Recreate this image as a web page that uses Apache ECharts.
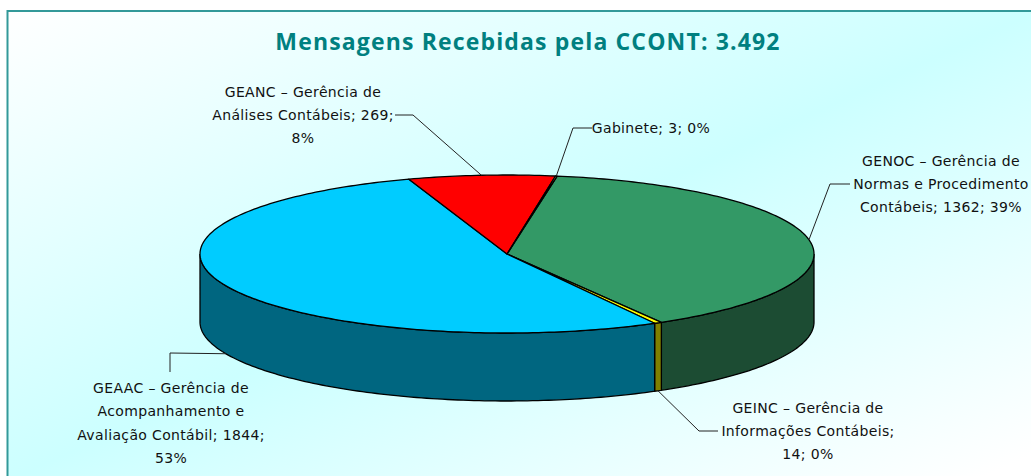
<!DOCTYPE html>
<html><head><meta charset="utf-8">
<style>html,body{margin:0;padding:0;background:#fff}#main{width:1031px;height:476px}
#main text{letter-spacing:0.35px}
#main text[style*="Open Sans"]{letter-spacing:1.15px}</style>
<script src="https://cdn.jsdelivr.net/npm/echarts@6/dist/echarts.min.js"></script>
</head><body><div id="main"></div>
<script>
const titleText = 'Mensagens Recebidas pela CCONT: 3.492';
const categories = ['GENOC', 'GEINC', 'GEAAC', 'GEANC', 'Gabinete'];
const values = [1362, 14, 1844, 269, 3];
const labelTexts = [
  'GENOC – Gerência de\nNormas e Procedimento\nContábeis; 1362; 39%',
  'GEINC – Gerência de\nInformações Contábeis;\n14; 0%',
  'GEAAC – Gerência de\nAcompanhamento e\nAvaliação Contábil; 1844;\n53%',
  'GEANC – Gerência de\nAnálises Contábeis; 269;\n8%',
  'Gabinete; 3; 0%'
];
// styles and layout, separate from the data
const topColors  = ['#339966', '#FFFF00', '#00CCFF', '#FF0000', '#FFFF99'];
const sideColors = ['#1C4C33', '#808000', '#006680', '#800000', '#808050'];
const pie = {cx: 507, cy: 254, rx: 307, ry: 79, depth: 68, start: 9.4};
const labelPos = [[941, 184], [808, 431], [171, 423], [303, 115], [651, 128]];
const leaders = [
  [[850, 184], [830, 184]],
  [[718, 431], [699, 431]],
  [[170, 372], [170, 353]],
  [[395, 115], [413, 115]],
  [[592, 128], [573, 128]]
];
const total = values.reduce((a, b) => a + b, 0);
function pt(deg, dy) {
  const r = deg * Math.PI / 180;
  return [pie.cx + pie.rx * Math.sin(r), pie.cy - pie.ry * Math.cos(r) + (dy || 0)];
}
function arc(a, b, dy) {
  const out = [];
  const n = Math.max(2, Math.ceil(Math.abs(b - a)));
  for (let i = 0; i <= n; i++) out.push(pt(a + (b - a) * i / n, dy));
  return out;
}
function renderSlice(params, api) {
  const i = params.dataIndex;
  let sum = 0;
  for (let k = 0; k < i; k++) sum += values[k];
  const a0 = pie.start + sum / total * 360;
  const a1 = a0 + api.value(0) / total * 360;
  const mid = (a0 + a1) / 2;
  const children = [];
  const s0 = Math.max(a0, 90), s1 = Math.min(a1, 270);
  if (s1 > s0) {
    children.push({
      type: 'polygon', z2: 1,
      shape: {points: arc(s0, s1, 0).concat(arc(s1, s0, pie.depth))},
      style: {fill: sideColors[i], stroke: '#000', lineWidth: 1.3}
    });
  }
  children.push({
    type: 'polygon', z2: 2,
    shape: {points: [[pie.cx, pie.cy]].concat(arc(a0, a1, 0))},
    style: {fill: topColors[i], stroke: '#000', lineWidth: 1.3, lineJoin: 'round'}
  });
  const visibleSide = mid > 90 && mid < 270;
  const anchor = pt(mid, visibleSide ? pie.depth : 0);
  children.push({
    type: 'polyline', z2: 3,
    shape: {points: leaders[i].concat([anchor])},
    style: {fill: null, stroke: '#222', lineWidth: 1}
  });
  children.push({
    type: 'text', z2: 4,
    style: {
      x: labelPos[i][0], y: labelPos[i][1], text: labelTexts[i],
      fill: '#111', align: 'center', verticalAlign: 'middle',
      fontFamily: 'DejaVu Sans', fontSize: 14, lineHeight: 23.4
    }
  });
  return {type: 'group', children};
}
const chart = echarts.init(document.getElementById('main'), null, {renderer: 'svg', width: 1031, height: 476});
chart.setOption({
  animation: false,
  graphic: [{
    type: 'rect', z: -10, silent: true,
    shape: {x: 7.5, y: 11, width: 1030, height: 470},
    style: {
      stroke: '#339999', lineWidth: 2,
      fill: {type: 'linear', x: 0, y: 0, x2: 1, y2: 1, colorStops: [
        {offset: 0, color: '#FFFFFF'}, {offset: 0.5, color: '#CCFFFF'}, {offset: 0.97, color: '#FFFFFF'}
      ]}
    }
  }],
  title: {
    text: titleText, left: 523, top: 24, textAlign: 'center',
    textStyle: {color: '#008080', fontFamily: 'Open Sans', fontWeight: 'bold', fontSize: 23}
  },
  series: [{
    type: 'custom', coordinateSystem: 'none', renderItem: renderSlice,
    data: values.map((v, i) => ({name: categories[i], value: [v]}))
  }]
});
</script></body></html>
